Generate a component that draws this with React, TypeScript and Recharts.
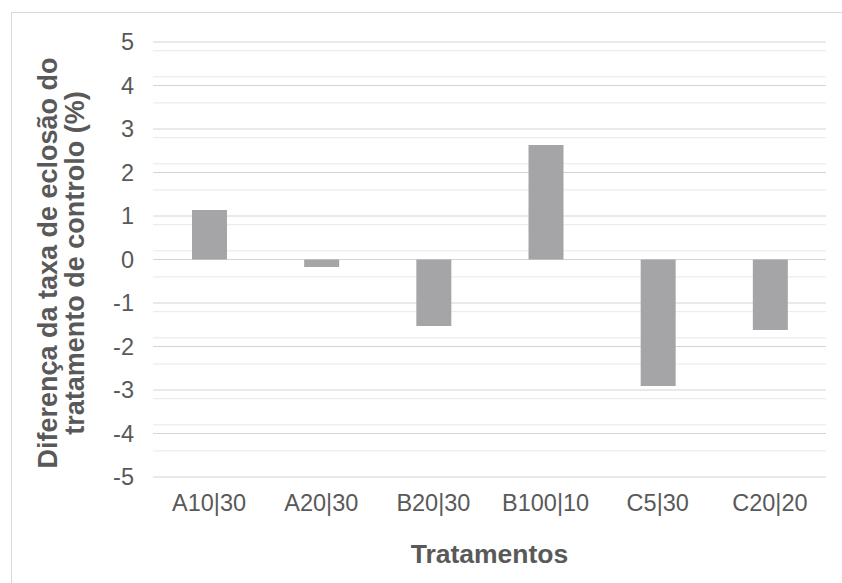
import { BarChart, Bar, XAxis, YAxis, CartesianGrid, Label } from 'recharts';

const categories = ['A10|30', 'A20|30', 'B20|30', 'B100|10', 'C5|30', 'C20|20'];
const differences = [1.14, -0.17, -1.53, 2.63, -2.91, -1.62];
const yTicks = [-5, -4, -3, -2, -1, 0, 1, 2, 3, 4, 5];
const minorTicks = [
  -4.8, -4.6, -4.4, -4.2, -3.8, -3.6, -3.4, -3.2, -2.8, -2.6, -2.4, -2.2, -1.8, -1.6, -1.4, -1.2,
  -0.8, -0.6, -0.4, -0.2, 0.2, 0.4, 0.6, 0.8, 1.2, 1.4, 1.6, 1.8, 2.2, 2.4, 2.6, 2.8,
  3.2, 3.4, 3.6, 3.8, 4.2, 4.4, 4.6, 4.8,
];

const data = categories.map((name, i) => ({ name, value: differences[i] }));

const FONT = '"Liberation Sans", Arial, sans-serif';
const TEXT = '#595959';

function YTitle() {
  return (
    <text
      transform="rotate(-90)"
      textAnchor="middle"
      fill={TEXT}
      fontFamily={FONT}
      fontSize={27}
      fontWeight="bold"
    >
      <tspan x={-263} y={57}>Diferença da taxa de eclosão do</tspan>
      <tspan x={-263} y={84}>tratamento de controlo (%)</tspan>
    </text>
  );
}

export default function App() {
  return (
    <div style={{ position: 'absolute', left: 0, top: 0, width: 842, height: 583, background: '#fff', overflow: 'hidden' }}>
      <div
        style={{
          position: 'absolute',
          left: 11,
          top: 12,
          width: 900,
          height: 700,
          borderTop: '1px solid #d9d9d9',
          borderLeft: '1px solid #d9d9d9',
        }}
      />
      <BarChart
        width={842}
        height={583}
        data={data}
        margin={{ top: 42, right: 16, left: 93, bottom: 0 }}
        style={{ position: 'absolute', left: 0, top: 0, fontFamily: FONT }}
      >
        <CartesianGrid vertical={false} stroke="#e8e8e8" horizontalValues={minorTicks} />
        <CartesianGrid vertical={false} stroke="#d4d4d4" horizontalValues={yTicks} />
        <XAxis
          dataKey="name"
          height={106}
          axisLine={false}
          tickLine={false}
          tickSize={0}
          tickMargin={17}
          interval={0}
          tick={{ fill: TEXT, fontSize: 23.5 }}
        >
          <Label
            value="Tratamentos"
            position="insideBottom"
            offset={20}
            style={{ fill: TEXT, fontSize: 26.5, fontWeight: 'bold' }}
          />
        </XAxis>
        <YAxis
          width={60}
          domain={[-5, 5]}
          ticks={yTicks}
          axisLine={false}
          tickLine={false}
          tickSize={0}
          tickMargin={19}
          tick={{ fill: TEXT, fontSize: 23.5 }}
          label={<Label content={<YTitle />} />}
        />
        <Bar dataKey="value" fill="#a5a5a7" barSize={35} isAnimationActive={false} />
      </BarChart>
    </div>
  );
}
